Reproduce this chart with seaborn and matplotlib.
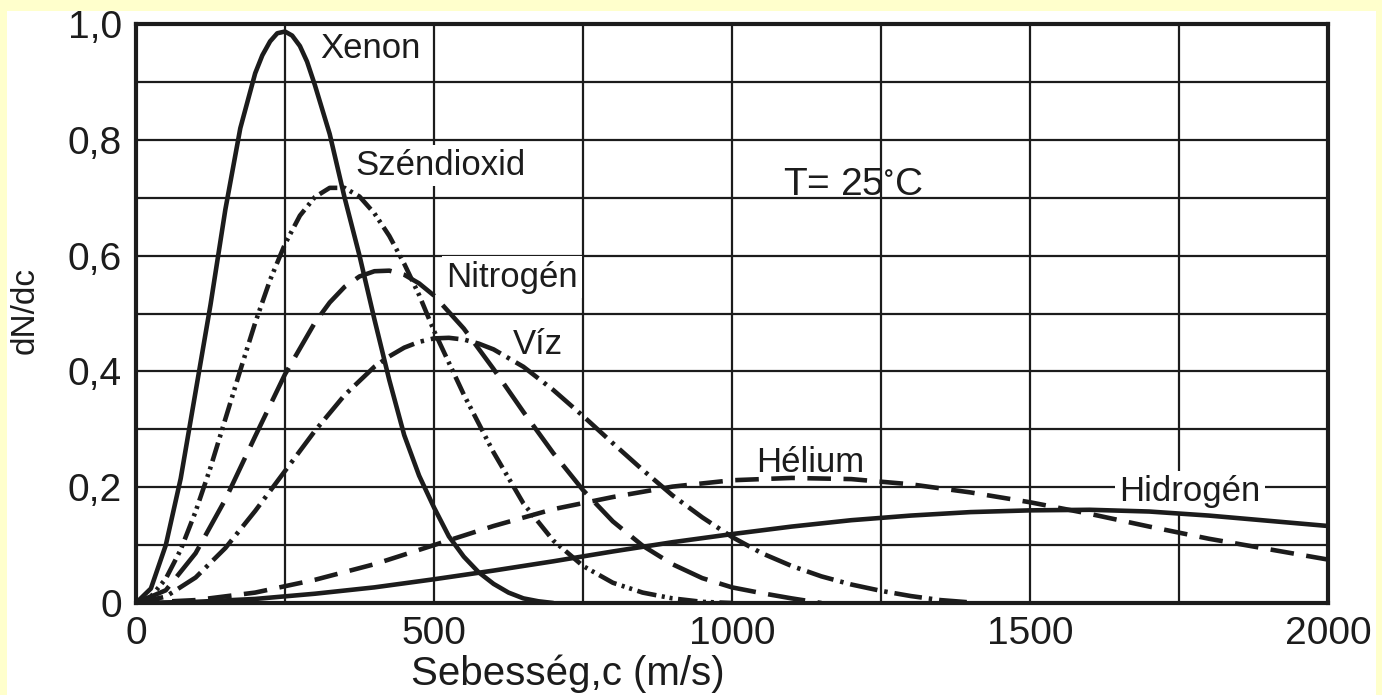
import numpy as np
import pandas as pd
import matplotlib
matplotlib.use("Agg")
import matplotlib.pyplot as plt
import seaborn as sns
from matplotlib.patches import Rectangle

# ---------------- data ----------------
xenon_c = [0, 25, 50, 75, 100, 125, 150, 175, 200, 212, 225, 237, 250, 262, 275, 287,
           300, 325, 350, 375, 400, 425, 450, 475, 500, 525, 550, 575, 600, 625, 650,
           675, 700]
xenon_v = [0, 0.025, 0.10, 0.215, 0.365, 0.515, 0.68, 0.82, 0.915, 0.946, 0.97, 0.984,
           0.987, 0.98, 0.962, 0.935, 0.895, 0.81, 0.70, 0.60, 0.49, 0.385, 0.29,
           0.22, 0.165, 0.115, 0.08, 0.053, 0.033, 0.018, 0.008, 0.003, 0]

co2_c = [0, 25, 50, 75, 100, 125, 150, 175, 200, 225, 250, 275, 300, 325, 350, 375,
         400, 425, 450, 475, 500, 550, 600, 650, 700, 750, 800, 850, 900, 950, 1000]
co2_v = [0, 0.011, 0.042, 0.092, 0.158, 0.234, 0.318, 0.402, 0.484, 0.558, 0.62,
         0.669, 0.701, 0.717, 0.717, 0.702, 0.673, 0.634, 0.586, 0.532, 0.47, 0.36,
         0.26, 0.172, 0.108, 0.064, 0.035, 0.018, 0.008, 0.002, 0]

n2_c = [0, 50, 100, 150, 200, 250, 300, 325, 350, 375, 400, 425, 450, 475, 500, 550,
        600, 650, 700, 750, 800, 850, 900, 950, 1000, 1050, 1100, 1150]
n2_v = [0, 0.022, 0.086, 0.179, 0.288, 0.395, 0.484, 0.519, 0.546, 0.564, 0.573,
        0.574, 0.567, 0.552, 0.531, 0.474, 0.404, 0.33, 0.259, 0.195, 0.141, 0.099,
        0.067, 0.043, 0.027, 0.017, 0.008, 0]

h2o_c = [0, 50, 100, 150, 200, 250, 300, 350, 400, 425, 450, 475, 500, 525, 550, 575,
         600, 650, 700, 750, 800, 850, 900, 950, 1000, 1050, 1100, 1150, 1200, 1250,
         1300, 1350, 1400]
h2o_v = [0, 0.011, 0.044, 0.095, 0.159, 0.228, 0.297, 0.359, 0.408, 0.426, 0.441,
         0.451, 0.457, 0.458, 0.455, 0.448, 0.438, 0.408, 0.368, 0.323, 0.276, 0.23,
         0.186, 0.148, 0.114, 0.086, 0.064, 0.046, 0.032, 0.021, 0.012, 0.005, 0.001]

he_c = [0, 100, 200, 300, 400, 500, 600, 700, 800, 900, 1000, 1100, 1200, 1300,
        1400, 1500, 1600, 1700, 1800, 1900, 2000]
he_v = [0, 0.005, 0.018, 0.04, 0.067, 0.10, 0.133, 0.162, 0.183, 0.201, 0.212,
        0.216, 0.214, 0.205, 0.191, 0.174, 0.154, 0.132, 0.111, 0.093, 0.075]

h2_c = [0, 100, 200, 300, 400, 500, 600, 700, 800, 900, 1000, 1100, 1200, 1300,
        1400, 1500, 1600, 1700, 1800, 1900, 2000]
h2_v = [0, 0.002, 0.007, 0.016, 0.027, 0.041, 0.056, 0.072, 0.089, 0.105, 0.119,
        0.132, 0.143, 0.151, 0.157, 0.160, 0.161, 0.158, 0.151, 0.142, 0.133]

x_ticks = [0, 250, 500, 750, 1000, 1250, 1500, 1750, 2000]
x_tick_labels = ["0", "", "500", "", "1000", "", "1500", "", "2000"]
y_ticks = [0, 0.1, 0.2, 0.3, 0.4, 0.5, 0.6, 0.7, 0.8, 0.9, 1.0]
y_tick_labels = ["0", "", "0,2", "", "0,4", "", "0,6", "", "0,8", "", "1,0"]

labels = ["Xenon", "Széndioxid", "Nitrogén", "Víz", "Hélium", "Hidrogén"]
label_x = [309, 368, 520, 633, 1040, 1650]
label_y = [0.958, 0.756, 0.563, 0.446, 0.243, 0.193]
title_text = r"T= 25$^{\circ}$C"
x_label = "Sebesség,c (m/s)"
y_label = "dN/dc"

# ---------------- style ----------------
sns.set_style("white")
plt.rcParams["font.family"] = ["Liberation Sans", "DejaVu Sans"]
plt.rcParams["mathtext.fontset"] = "custom"
plt.rcParams["mathtext.rm"] = "Liberation Sans"
plt.rcParams["mathtext.default"] = "regular"
plt.rcParams["lines.scale_dashes"] = False

INK = "#1c1c1c"
fig = plt.figure(figsize=(13.82, 6.95), dpi=100, facecolor="#FFFFCC")
fig.patches.append(Rectangle((7 / 1382, 0), (1376 - 7) / 1382, 1 - 11 / 695,
                             transform=fig.transFigure, facecolor="white",
                             edgecolor="none", zorder=-10))
ax = fig.add_axes([136 / 1382, 1 - 603 / 695, (1328 - 136) / 1382, (603 - 24) / 695])
ax.set_zorder(5)
ax.set_facecolor("white")

styles = [
    "-",
    (0, (14, 4, 2.2, 3.5, 2.2, 4)),
    (0, (27, 9)),
    (0, (20, 5, 2.5, 5)),
    (0, (17, 9)),
    "-",
]
series = [(xenon_c, xenon_v), (co2_c, co2_v), (n2_c, n2_v),
          (h2o_c, h2o_v), (he_c, he_v), (h2_c, h2_v)]

for (cx, cy), ls, name in zip(series, styles, labels):
    df = pd.DataFrame({"c": cx, "v": cy})
    sns.lineplot(data=df, x="c", y="v", ax=ax, color=INK, linewidth=3.3,
                 linestyle=ls, errorbar=None, zorder=4)

ax.set_xlim(0, 2000)
ax.set_ylim(0, 1.0)
ax.set_xticks(x_ticks)
ax.set_xticklabels(x_tick_labels)
ax.set_yticks(y_ticks)
ax.set_yticklabels(y_tick_labels)
ax.tick_params(axis="both", length=0, labelsize=28, colors=INK)
ax.tick_params(axis="x", pad=9)
ax.tick_params(axis="y", pad=10)
ax.grid(True, color=INK, linewidth=1.6, zorder=1)
ax.set_axisbelow(True)
for s in ax.spines.values():
    s.set_visible(True)
    s.set_color(INK)
    s.set_linewidth(3.0)
    s.set_zorder(6)
ax.set_xlabel("")
ax.set_ylabel("")

for t, lx, ly in zip(labels, label_x, label_y):
    ax.text(lx, ly, t, fontsize=25, color=INK, ha="left", va="center", zorder=3,
            bbox=dict(boxstyle="square,pad=0.12", facecolor="white", edgecolor="none"))

ax.text(1085, 0.722, title_text, fontsize=28, color=INK, ha="left", va="center", zorder=3)

fig.text(568 / 1382, 1 - 674 / 695, x_label, fontsize=29, color=INK,
         ha="center", va="center")
fig.text(25 / 1382, 1 - 310 / 695, y_label, fontsize=24, color=INK,
         ha="center", va="center", rotation=90)

fig.savefig("out.png", dpi=100, facecolor=fig.get_facecolor())
